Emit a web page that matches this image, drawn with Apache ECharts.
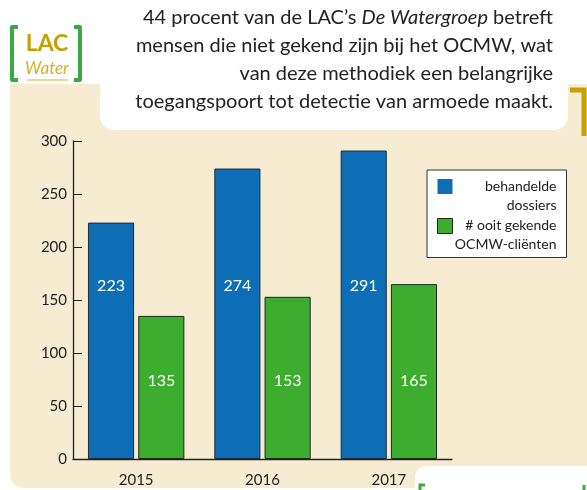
<!DOCTYPE html>
<html>
<head>
<meta charset="utf-8">
<script src="https://cdn.jsdelivr.net/npm/echarts@6/dist/echarts.min.js"></script>
<style>
  html, body { margin: 0; padding: 0; background: #fff; }
  #chart { width: 587px; height: 490px; }
</style>
</head>
<body>
<div id="chart"></div>
<script>
// data
const years = ['2015', '2016', '2017'];
const dossiers = [223, 274, 291];
const clienten = [135, 153, 165];
const yTicks = [0, 50, 100, 150, 200, 250, 300];
const seriesNames = ['behandelde dossiers', '# ooit gekende OCMW-cliënten'];
const legendLines = {
  'behandelde dossiers': ['behandelde', 'dossiers'],
  '# ooit gekende OCMW-cliënten': ['# ooit gekende', 'OCMW-cliënten']
};
const introLines = [
  'mensen die niet gekend zijn bij het OCMW, wat',
  'van deze methodiek een belangrijke',
  'toegangspoort tot detectie van armoede maakt.'
];

const FONT = 'Lato';
const beige = '#f5ecd2';
const gold = '#c6a000';
const green = '#3aa945';

const chart = echarts.init(document.getElementById('chart'));

const graphics = [
  // beige panel
  { type: 'rect', z: -10, shape: { x: 10, y: 84, width: 620, height: 404, r: [0, 0, 0, 14] }, style: { fill: beige } },
  // white text box
  { type: 'rect', z: -9, shape: { x: 100, y: -30, width: 468, height: 160, r: 14 }, style: { fill: '#fff' } },
  // bottom right white box
  { type: 'rect', z: -9, shape: { x: 415, y: 466, width: 200, height: 60, r: [12, 0, 0, 0] }, style: { fill: '#fff' } },
  { type: 'polyline', z: -8, shape: { points: [[420, 492], [420, 485], [425, 485]] }, style: { stroke: green, lineWidth: 3, fill: null } },
  { type: 'polyline', z: -8, shape: { points: [[584, 492], [584, 485]] }, style: { stroke: green, lineWidth: 3, fill: null } },
  // gold bracket right
  { type: 'polyline', z: -8, shape: { points: [[570, 90], [584, 90], [584, 136]] }, style: { stroke: gold, lineWidth: 5, fill: null } },
  // logo
  { type: 'polyline', z: -8, shape: { points: [[18, 27], [12, 27], [12, 80], [18, 80]] }, style: { stroke: green, lineWidth: 4, fill: null, lineJoin: 'round' } },
  { type: 'polyline', z: -8, shape: { points: [[74, 27], [80, 27], [80, 80], [74, 80]] }, style: { stroke: green, lineWidth: 4, fill: null, lineJoin: 'round' } },
  { type: 'text', z: -8, style: { text: 'LAC', x: 47, y: 44, align: 'center', verticalAlign: 'middle', font: 'bold 23px ' + FONT, fill: gold } },
  { type: 'text', z: -8, style: { text: 'Water', x: 47, y: 69, align: 'center', verticalAlign: 'middle', font: 'italic 17px ' + FONT, fill: '#d4b12c' } },
  { type: 'line', z: -8, shape: { x1: 27, y1: 80, x2: 68, y2: 80 }, style: { stroke: '#e2cb72', lineWidth: 1.5 } },
  // intro text
  {
    type: 'text', z: -8,
    style: {
      text: '{n|44 procent van de LAC’s }{i|De Watergroep}{n| betreft}',
      x: 553, y: 18, align: 'right', verticalAlign: 'middle',
      rich: {
        n: { fontFamily: FONT, fontSize: 20, fill: '#222' },
        i: { fontFamily: FONT, fontSize: 20, fontStyle: 'italic', fill: '#222' }
      }
    }
  }
];
introLines.forEach(function (t, i) {
  graphics.push({
    type: 'text', z: -8,
    style: { text: t, x: 553, y: 46 + i * 28, align: 'right', verticalAlign: 'middle', font: '20px ' + FONT, fill: '#222' }
  });
});

const option = {
  animation: false,
  textStyle: { fontFamily: FONT },
  graphic: graphics,
  grid: { left: 73, right: 135, top: 141, bottom: 31 },
  legend: {
    orient: 'vertical',
    left: 427,
    top: 170,
    backgroundColor: '#fff',
    borderColor: '#333',
    borderWidth: 1,
    borderRadius: 0,
    padding: [9, 10, 6, 10],
    itemGap: 6,
    itemWidth: 15,
    itemHeight: 15,
    icon: 'rect',
    data: [
      { name: seriesNames[0], itemStyle: { borderWidth: 0 } },
      { name: seriesNames[1], itemStyle: { borderColor: '#222', borderWidth: 1 } }
    ],
    formatter: function (name) {
      return legendLines[name].map(function (l) { return '{r|' + l + '}'; }).join('\n');
    },
    textStyle: {
      width: 99,
      padding: [18, 0, 0, 0],
      rich: {
        r: { align: 'right', fontSize: 14, lineHeight: 19, color: '#222', fontFamily: FONT }
      }
    }
  },
  xAxis: {
    type: 'category',
    data: years,
    axisLine: { lineStyle: { color: '#222', width: 1.3 } },
    axisTick: { inside: true, length: 7, lineStyle: { color: '#222' } },
    axisLabel: { color: '#222', fontSize: 15, margin: 14 }
  },
  yAxis: {
    type: 'value',
    min: 0,
    max: 300,
    interval: 50,
    splitLine: { show: false },
    axisLine: { show: true, lineStyle: { color: '#222', width: 1.3 } },
    axisTick: { show: true, inside: true, length: 9, lineStyle: { color: '#222' } },
    axisLabel: {
      color: '#222', fontSize: 15, margin: 6,
      formatter: function (v) { return yTicks.indexOf(v) >= 0 ? String(v) : ''; }
    }
  },
  series: [
    {
      name: seriesNames[0],
      type: 'bar',
      data: dossiers,
      barWidth: '36.5%',
      barGap: '9%',
      itemStyle: { color: '#0e6eb5', borderColor: '#1d2b3a', borderWidth: 1 },
      label: { show: true, position: 'insideBottom', distance: 165, color: '#fff', fontSize: 16 }
    },
    {
      name: seriesNames[1],
      type: 'bar',
      data: clienten,
      barWidth: '36.5%',
      itemStyle: { color: '#3cad2e', borderColor: '#1d2a1a', borderWidth: 1 },
      label: { show: true, position: 'insideBottom', distance: 70, color: '#fff', fontSize: 16 }
    }
  ]
};

chart.setOption(option);
</script>
</body>
</html>
